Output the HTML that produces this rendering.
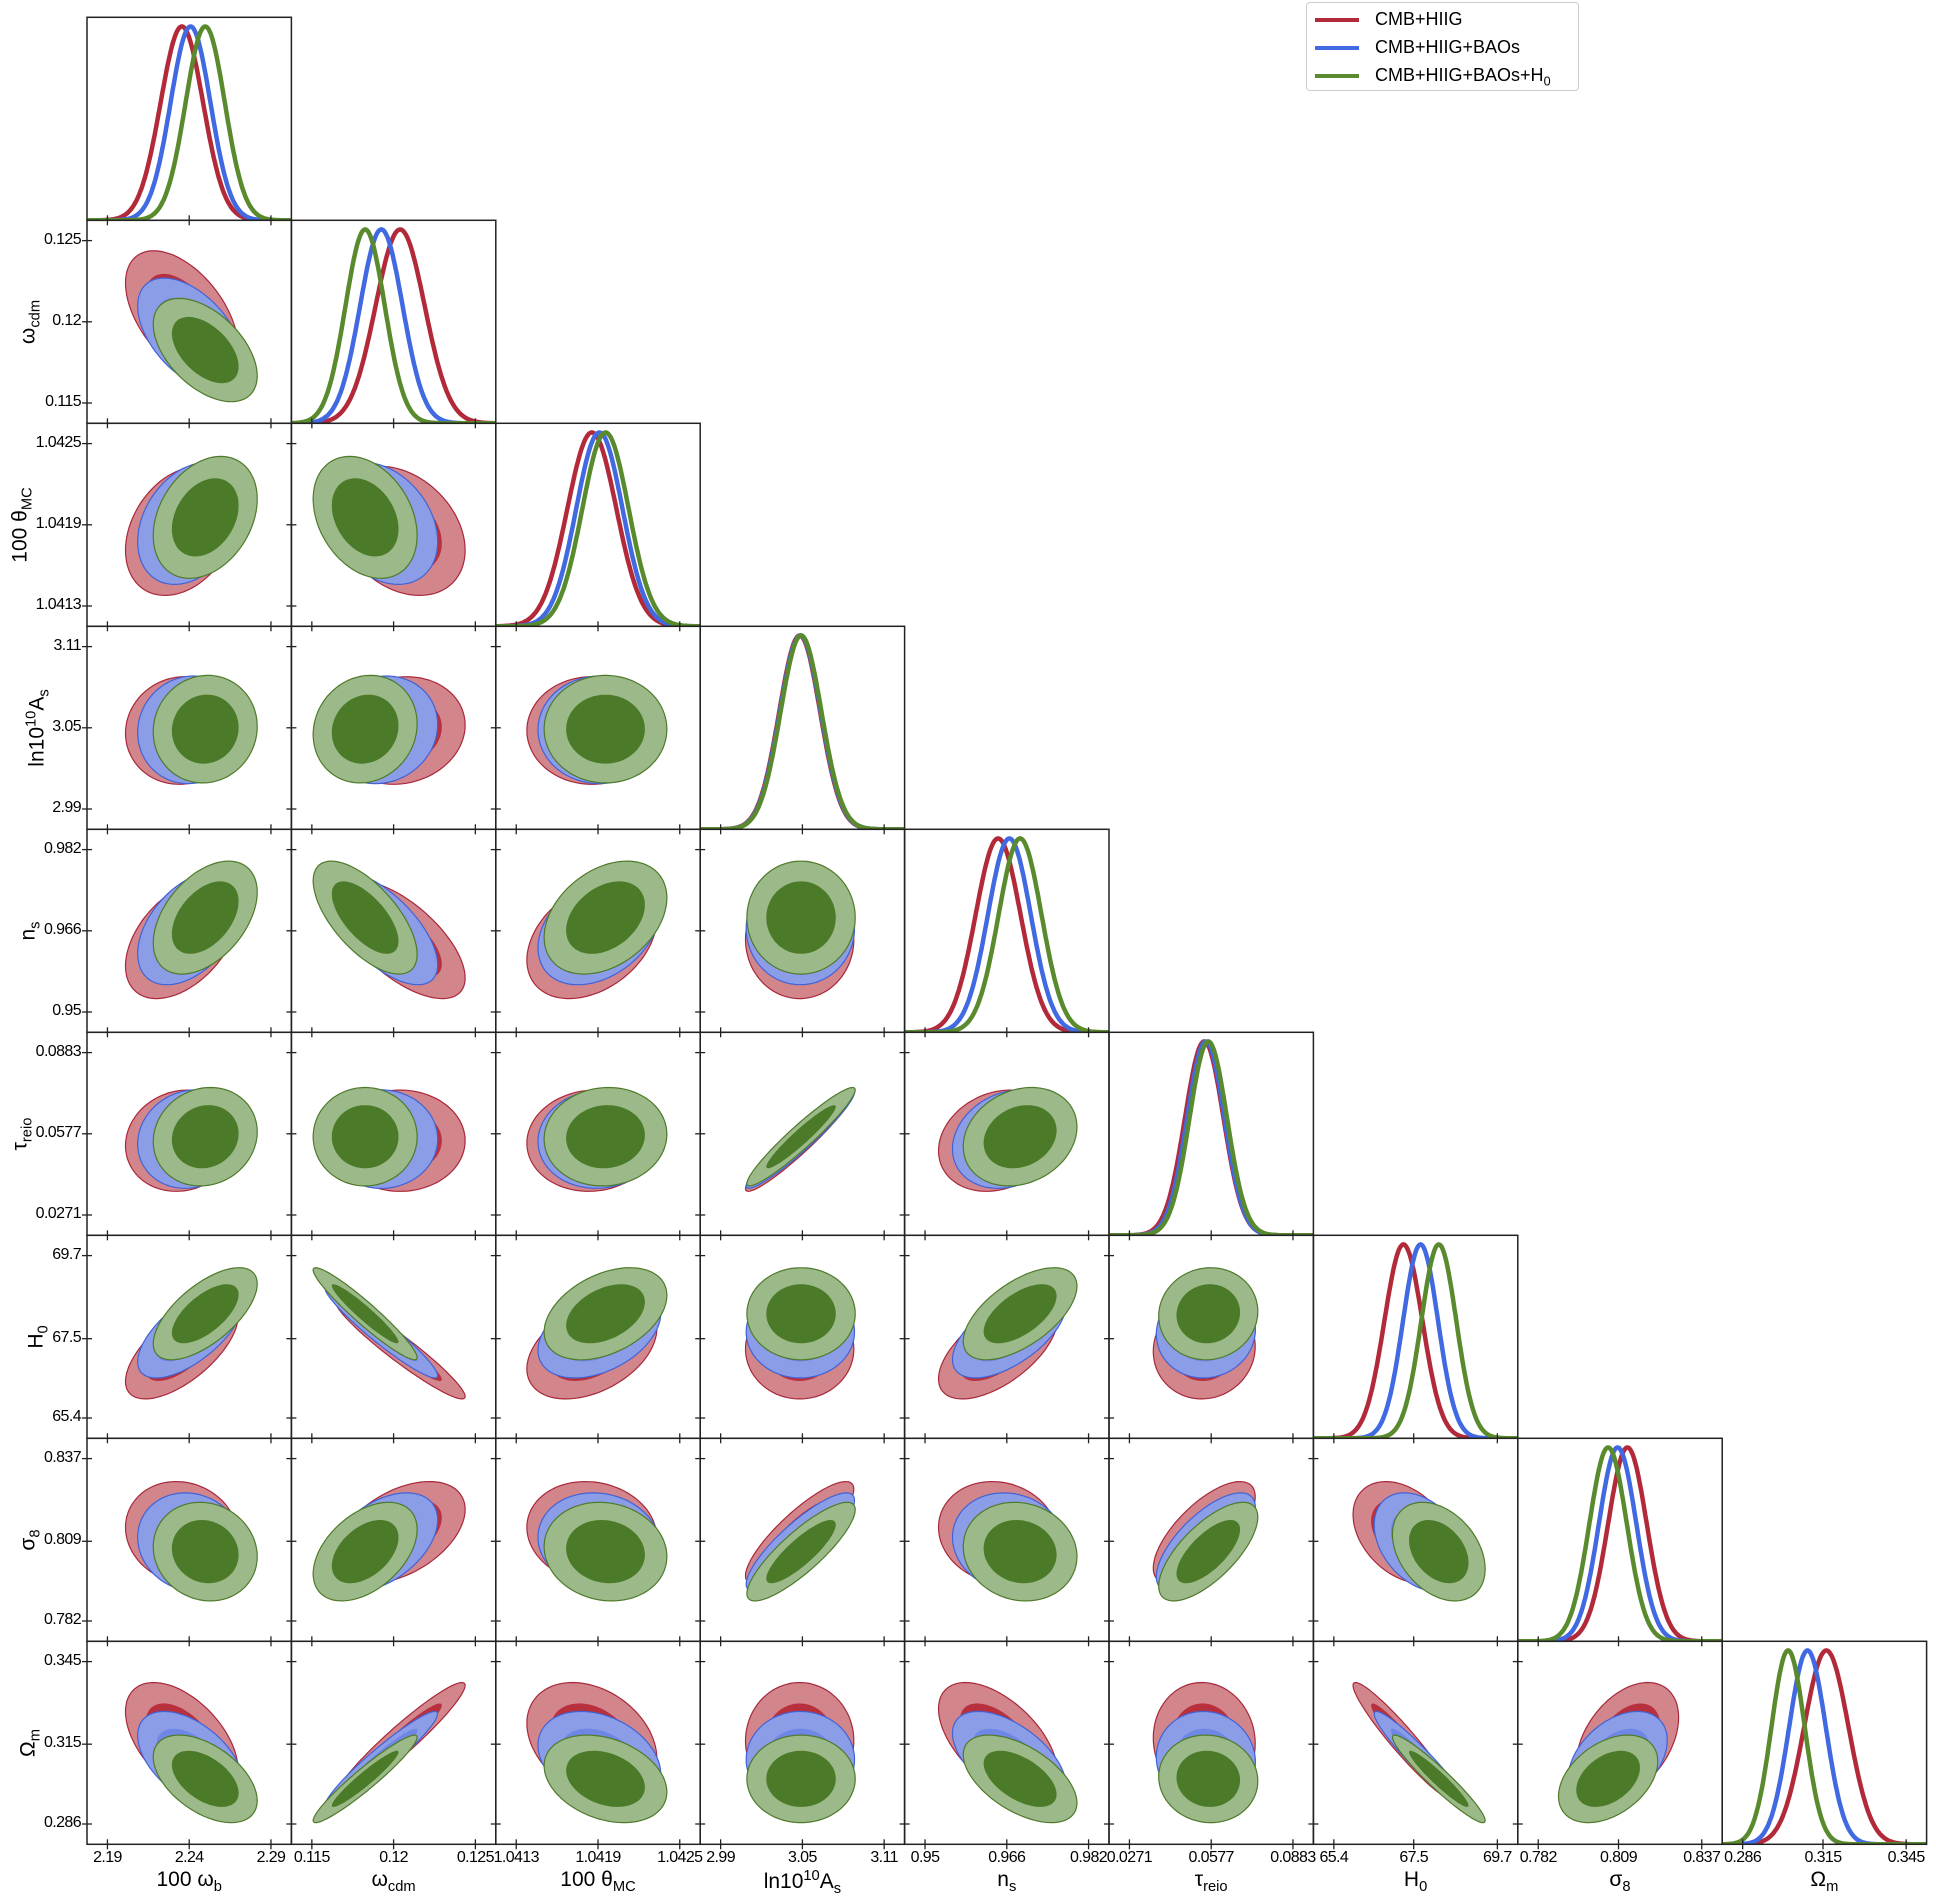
<!DOCTYPE html>
<html><head><meta charset="utf-8">
<style>
body{margin:0;background:#fff;}
#wrap{position:relative;width:1936px;height:1896px;overflow:hidden;font-family:"Liberation Sans","DejaVu Sans",sans-serif;}
.lbl{position:absolute;font-size:21px;color:#000;white-space:nowrap;}
.tk{position:absolute;font-size:16px;letter-spacing:-0.6px;color:#000;white-space:nowrap;}
sub,sup{font-size:70%;}
</style></head><body>
<div id="wrap">
<svg id="svg" width="1936" height="1896"></svg>
<div style="position:absolute;left:1306px;top:2px;width:271px;height:87px;border:1px solid #ccc;border-radius:4px;background:#fff;">
 <div style="position:absolute;left:8px;top:6px;height:22px;"><span style="position:absolute;left:0;top:9px;width:44px;height:4px;background:#b22a3a"></span><span style="position:absolute;left:60px;top:0;font-size:18px">CMB+HIIG</span></div>
 <div style="position:absolute;left:8px;top:34px;height:22px;"><span style="position:absolute;left:0;top:9px;width:44px;height:4px;background:#4169e1"></span><span style="position:absolute;left:60px;top:0;font-size:18px;white-space:nowrap">CMB+HIIG+BAOs</span></div>
 <div style="position:absolute;left:8px;top:62px;height:22px;"><span style="position:absolute;left:0;top:9px;width:44px;height:4px;background:#5a8a2e"></span><span style="position:absolute;left:60px;top:0;font-size:18px;white-space:nowrap">CMB+HIIG+BAOs+H<sub>0</sub></span></div>
</div>
</div>
<script>
const paramNames=['100 ω<sub>b</sub>','ω<sub>cdm</sub>','100 θ<sub>MC</sub>','ln10<sup>10</sup>A<sub>s</sub>','n<sub>s</sub>','τ<sub>reio</sub>','H<sub>0</sub>','σ<sub>8</sub>','Ω<sub>m</sub>'];
const paramKeys=['omega-b','omega-cdm','theta-mc','ln-as','n-s','tau-reio','h0','sigma8','omega-m'];
const tickLabels=[['2.19','2.24','2.29'],['0.115','0.12','0.125'],['1.0413','1.0419','1.0425'],['2.99','3.05','3.11'],['0.95','0.966','0.982'],['0.0271','0.0577','0.0883'],['65.4','67.5','69.7'],['0.782','0.809','0.837'],['0.286','0.315','0.345']];
const tickValues=[[2.19,2.24,2.29],[0.115,0.12,0.125],[1.0413,1.0419,1.0425],[2.99,3.05,3.11],[0.95,0.966,0.982],[0.0271,0.0577,0.0883],[65.4,67.5,69.7],[0.782,0.809,0.837],[0.286,0.315,0.345]];
const seriesNames=['cmb-hiig','cmb-hiig-baos','cmb-hiig-baos-h0'];
const meansRed=[2.2355,0.1204,1.041855,3.048,0.9643,0.0551,67.23,0.812,0.3162];
const meansBlue=[2.2408,0.11925,1.04191,3.0485,0.9665,0.0557,67.68,0.8087,0.3094];
const meansGreen=[2.2498,0.11826,1.041955,3.049,0.9686,0.0566,68.16,0.8055,0.3024];
const sigmaRed=[0.0130,0.00150,0.00018,0.015,0.0044,0.0072,0.50,0.0065,0.0080];
const sigmaBlue=[0.0122,0.00130,0.00017,0.015,0.0042,0.0070,0.46,0.0063,0.0066];
const sigmaGreen=[0.0120,0.00120,0.00017,0.015,0.0042,0.0070,0.46,0.0063,0.0060];
const corrRows=[
 [1,-0.5,0.3,0.05,0.45,0.1,0.65,-0.1,-0.5],
 [-0.5,1,-0.3,0.1,-0.65,0,-0.95,0.45,0.95],
 [0.3,-0.3,1,0,0.35,0.05,0.4,-0.1,-0.3],
 [0.05,0.1,0,1,0,0.95,0,0.85,0],
 [0.45,-0.65,0.35,0,1,0.2,0.6,-0.1,-0.55],
 [0.1,0,0.05,0.95,0.2,1,0.05,0.7,-0.05],
 [0.65,-0.95,0.4,0,0.6,0.05,1,-0.35,-0.95],
 [-0.1,0.45,-0.1,0.85,-0.1,0.7,-0.35,1,0.4],
 [-0.5,0.95,-0.3,0,-0.55,-0.05,-0.95,0.4,1]];

const X0=87,W=204.4,Y0=17.3,H=203,N=9;
const NS='http://www.w3.org/2000/svg';
const svg=document.getElementById('svg');
const wrap=document.getElementById('wrap');
const means=[meansRed,meansBlue,meansGreen],sigmas=[sigmaRed,sigmaBlue,sigmaGreen];
const lineCol=['#b22a3a','#4169e1','#5a8a2e'];
const outerFill=['#d3858c','#8c9de8','#9cba89'],innerFill=['#b8303d','#6e86e4','#4b7a28'],strokeCol=['#a8283a','#3f63d6','#4e7a2a'];
function rng(p){const t=tickValues[p];const span=(t[2]-t[0])/0.8;const lo=(t[0]+t[2])/2-span/2;return [lo,lo+span];}
function xs(p,col,v){const r=rng(p);return X0+col*W+(v-r[0])/(r[1]-r[0])*W;}
function ys(p,row,v){const r=rng(p);return Y0+(row+1)*H-(v-r[0])/(r[1]-r[0])*H;}
function mk(tag,attrs){const e=document.createElementNS(NS,tag);for(const k in attrs)e.setAttribute(k,attrs[k]);return e;}
for(let row=0;row<N;row++){
 for(let col=0;col<=row;col++){
  const g=mk('g',{});
  
  
  svg.appendChild(g);
  const px=X0+col*W,py=Y0+row*H;
  const cp=mk('clipPath',{id:'c'+row+'_'+col});cp.appendChild(mk('rect',{x:px,y:py,width:W,height:H}));svg.appendChild(cp);
  const inner=mk('g',{'clip-path':'url(#c'+row+'_'+col+')'});g.appendChild(inner);
  if(row===col){
   const r=rng(col);
   for(let s=0;s<3;s++){
    let d='';
    for(let i=0;i<=200;i++){const v=r[0]+(r[1]-r[0])*i/200;const z=(v-means[s][col])/sigmas[s][col];
     const x=xs(col,col,v),y=py+H-Math.exp(-z*z/2)*0.955*H;d+=(i?'L':'M')+x.toFixed(1)+','+y.toFixed(1);}
    const pth=mk('path',{d:d,fill:'none',stroke:lineCol[s],'stroke-width':4.5});
    
    
    inner.appendChild(pth);
   }
  } else {
   const rho=corrRows[row][col];
   for(let s=0;s<3;s++){
    [2.65,1.7].forEach((k,li)=>{
     let d='';
     for(let i=0;i<=90;i++){const t=i/90*2*Math.PI;
      const a=Math.cos(t),b=rho*Math.cos(t)+Math.sqrt(1-rho*rho)*Math.sin(t);
      const vx=means[s][col]+k*sigmas[s][col]*a,vy=means[s][row]+k*sigmas[s][row]*b;
      d+=(i?'L':'M')+xs(col,col,vx).toFixed(1)+','+ys(row,row,vy).toFixed(1);}
     const pth=mk('path',{d:d+'Z',fill:li?innerFill[s]:outerFill[s],stroke:li?'none':strokeCol[s],'stroke-width':1.2});
     
     
     inner.appendChild(pth);
    });
   }
  }
  g.appendChild(mk('rect',{x:px,y:py,width:W,height:H,fill:'none',stroke:'#222','stroke-width':1.5}));
  for(let t=0;t<3;t++){
   const tx=xs(col,col,tickValues[col][t]);
   g.appendChild(mk('line',{x1:tx,x2:tx,y1:py+H-5,y2:py+H+5,stroke:'#222','stroke-width':1.3}));
   if(row!==col){const ty=ys(row,row,tickValues[row][t]);
    g.appendChild(mk('line',{x1:px-5,x2:px+5,y1:ty,y2:ty,stroke:'#222','stroke-width':1.3}));}
  }
 }
}
for(let row=1;row<N;row++){
 let maxW=0;
 for(let t=0;t<3;t++){
  const d=document.createElement('div');d.className='tk';
  
  
  d.textContent=tickLabels[row][t];
  const ty=ys(row,row,tickValues[row][t]);
  d.style.right=(1936-X0+6)+'px';d.style.top=(ty-10)+'px';wrap.appendChild(d);
  maxW=Math.max(maxW,d.getBoundingClientRect().width);
 }
 const l=document.createElement('div');l.className='lbl';
 
 
 l.innerHTML=paramNames[row];
 const cx=Math.max(12,X0-6-maxW-14);
 l.style.left=cx+'px';l.style.top=(Y0+row*H+H/2)+'px';l.style.transform='translate(-50%,-50%) rotate(-90deg)';
 wrap.appendChild(l);
}
for(let col=0;col<N;col++){
 for(let t=0;t<3;t++){
  const d=document.createElement('div');d.className='tk';
  
  
  d.textContent=tickLabels[col][t];
  const tx=xs(col,col,tickValues[col][t]);
  d.style.left=tx+'px';d.style.top=(Y0+N*H+5)+'px';d.style.transform='translateX(-50%)';wrap.appendChild(d);
 }
 const l=document.createElement('div');l.className='lbl';
 
 
 l.innerHTML=paramNames[col];
 l.style.left=(X0+col*W+W/2)+'px';l.style.top=(Y0+N*H+24)+'px';l.style.transform='translateX(-50%)';
 wrap.appendChild(l);
}
</script>
</body></html>
